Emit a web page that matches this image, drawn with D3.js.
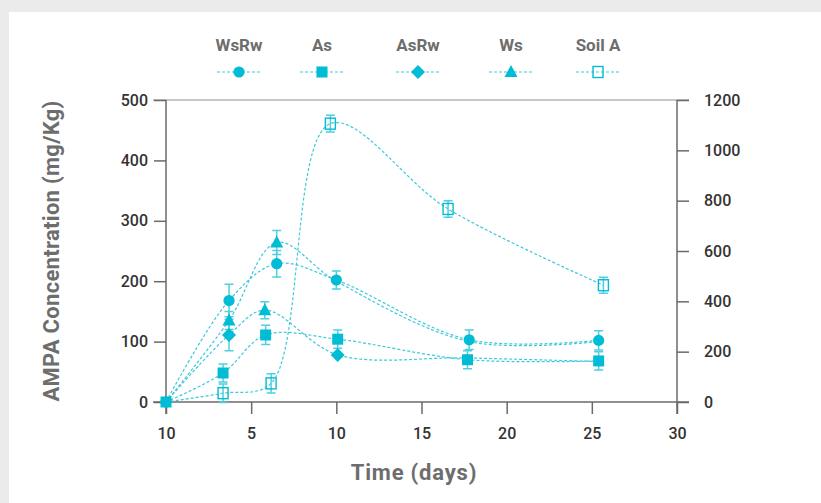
<!DOCTYPE html>
<html><head><meta charset="utf-8">
<script src="https://cdn.jsdelivr.net/npm/d3@7"></script>
<style>
html,body{margin:0;padding:0;background:#ebebeb;}
svg{display:block;}
text{font-family:Roboto,"DejaVu Sans",sans-serif;}
</style></head>
<body>
<svg id="chart" width="821" height="503"></svg>
<script>
// ---------- data ----------
const seriesNames = ["WsRw", "As", "AsRw", "Ws", "Soil A"];
const seriesAxis = ["left", "left", "left", "left", "right"];
const wsrwDays = [0, 3.7, 6.5, 10, 17.8, 25.4];
const wsrwValues = [0, 168, 229, 202, 103, 102];
const wsrwErrors = [0, 27, 22, 15, 16, 16];
const wsrwMarkers = ["circle", "circle", "circle", "circle", "circle", "circle"];

const asDays = [0, 3.35, 5.85, 10.08, 17.7, 25.4];
const asValues = [0, 48, 111, 104, 70, 68];
const asErrors = [0, 15, 16, 15, 15, 15];
const asMarkers = ["square", "square", "square", "square", "square", "square"];

const asrwDays = [0, 3.7, 5.8, 10.08, 17.7, 25.4];
const asrwValues = [0, 111, 152, 78, 73, 67];
const asrwErrors = [0, 26, 14, 0, 0, 0];
const asrwMarkers = ["none", "diamond", "triangle", "diamond", "none", "none"];

const wsDays = [0, 3.7, 6.5, 10, 17.8, 25.4];
const wsValues = [0, 135, 264, 200, 100, 100];
const wsErrors = [0, 15, 20, 0, 0, 0];
const wsMarkers = ["none", "triangle", "triangle", "none", "none", "none"];

const soilDays = [0, 3.35, 6.17, 9.65, 16.56, 25.68];
const soilValues = [0, 35, 74, 1106, 767, 464];
const soilErrors = [0, 37, 38, 33, 33, 32];
const soilMarkers = ["none", "open", "open", "open", "open", "open"];

const xTickValues = [0, 5, 10, 15, 20, 25, 30];
const xTickLabels = ["10", "5", "10", "15", "20", "25", "30"];
const yLeftTicks = [0, 100, 200, 300, 400, 500];
const yRightTicks = [0, 200, 400, 600, 800, 1000, 1200];
const legendMarkers = ["circle", "square", "diamond", "triangle", "open"];

// ---------- layout ----------
const svg = d3.select("#chart");
const C = "#00bcd4", LINE = "#3cc9dc", ERR = "#4fcfe0", AX = "#6a6a6a";
svg.append("rect").attr("x", 9).attr("y", 12).attr("width", 812).attr("height", 491).attr("fill", "#fff");

const x = d3.scaleLinear().domain([0, 30]).range([166, 677]);
const yL = d3.scaleLinear().domain([0, 500]).range([402, 100]);
const yR = d3.scaleLinear().domain([0, 1200]).range([402, 100]);

const series = [
  {name: "Soil A", days: soilDays, values: soilValues, errors: soilErrors, markers: soilMarkers, axis: seriesAxis[4]},
  {name: "Ws", days: wsDays, values: wsValues, errors: wsErrors, markers: wsMarkers, axis: seriesAxis[3]},
  {name: "AsRw", days: asrwDays, values: asrwValues, errors: asrwErrors, markers: asrwMarkers, axis: seriesAxis[2]},
  {name: "WsRw", days: wsrwDays, values: wsrwValues, errors: wsrwErrors, markers: wsrwMarkers, axis: seriesAxis[0]},
  {name: "As", days: asDays, values: asValues, errors: asErrors, markers: asMarkers, axis: seriesAxis[1]}
];

// ---------- axes ----------
svg.append("line").attr("x1", 153).attr("x2", 689).attr("y1", 100).attr("y2", 100)
  .attr("stroke", "#b4b4b4").attr("stroke-width", 1.5);

const gx = svg.append("g").attr("transform", "translate(0,402)")
  .call(d3.axisBottom(x).tickValues(xTickValues).tickFormat((d, i) => xTickLabels[i]).tickSize(12).tickSizeOuter(0).tickPadding(14));
const gl = svg.append("g").attr("transform", "translate(166,0)")
  .call(d3.axisLeft(yL).tickValues(yLeftTicks).tickFormat(d3.format("d")).tickSize(12).tickSizeOuter(0).tickPadding(6));
const gr = svg.append("g").attr("transform", "translate(677,0)")
  .call(d3.axisRight(yR).tickValues(yRightTicks).tickFormat(d3.format("d")).tickSize(12).tickSizeOuter(0).tickPadding(15));
[gx, gl, gr].forEach(g => {
  g.select(".domain").attr("stroke", AX).attr("stroke-width", 1.5);
  g.selectAll(".tick line").attr("stroke", AX).attr("stroke-width", 1.5);
  g.selectAll(".tick text").attr("fill", "#333").attr("font-size", 16).attr("font-weight", 500);
});
gx.select(".domain").remove();
svg.append("line").attr("x1", 153).attr("x2", 689).attr("y1", 402).attr("y2", 402)
  .attr("stroke", AX).attr("stroke-width", 1.5);
gl.select(".domain").attr("d", "M0,100V414");
gr.select(".domain").attr("d", "M0,100V414");

svg.append("text").attr("transform", "translate(59,251) rotate(-90)")
  .attr("text-anchor", "middle").attr("font-size", 22).attr("font-weight", 700).attr("fill", "#6d6d6d")
  .attr("letter-spacing", 0.3)
  .text("AMPA Concentration (mg/Kg)");
svg.append("text").attr("x", 414).attr("y", 480)
  .attr("text-anchor", "middle").attr("font-size", 22).attr("font-weight", 700).attr("fill", "#6d6d6d")
  .attr("letter-spacing", 0.8)
  .text("Time (days)");

// ---------- marks ----------
function drawMarker(g, type, cx, cy) {
  if (type === "circle") g.append("circle").attr("cx", cx).attr("cy", cy).attr("r", 5.6).attr("fill", C);
  else if (type === "square") g.append("rect").attr("x", cx - 5.5).attr("y", cy - 5.5).attr("width", 11).attr("height", 11).attr("fill", C);
  else if (type === "diamond") g.append("path").attr("d", `M${cx},${cy-7}L${cx+7},${cy}L${cx},${cy+7}L${cx-7},${cy}Z`).attr("fill", C);
  else if (type === "triangle") g.append("path").attr("d", `M${cx},${cy-7}L${cx+6.5},${cy+5}L${cx-6.5},${cy+5}Z`).attr("fill", C);
  else if (type === "open") g.append("rect").attr("x", cx - 5).attr("y", cy - 5.5).attr("width", 10).attr("height", 11)
    .attr("fill", "none").attr("stroke", C).attr("stroke-width", 1.4);
}

const lineG = svg.append("g"), errG = svg.append("g"), markG = svg.append("g");
series.forEach(s => {
  const y = s.axis === "right" ? yR : yL;
  const pts = s.days.map((d, i) => [d, s.values[i]]);
  const line = d3.line().x(d => x(d[0])).y(d => y(d[1])).curve(d3.curveCatmullRom.alpha(0.5));
  lineG.append("path").attr("d", line(pts)).attr("fill", "none").attr("stroke", LINE)
    .attr("stroke-width", 1.2).attr("stroke-dasharray", "3,2");
  pts.forEach((p, i) => {
    const e = s.errors[i];
    if (e > 0) {
      const cx = x(p[0]), y1 = y(p[1] + e), y2 = y(p[1] - e);
      errG.append("path").attr("d", `M${cx},${y1}V${y2}M${cx-4.5},${y1}H${cx+4.5}M${cx-4.5},${y2}H${cx+4.5}`)
        .attr("stroke", ERR).attr("stroke-width", 1.5).attr("fill", "none");
    }
  });
});
series.forEach(s => {
  const y = s.axis === "right" ? yR : yL;
  s.days.forEach((d, i) => drawMarker(markG, s.markers[i], x(d), y(s.values[i])));
});

// ---------- legend ----------
const legendX = [239, 322, 418, 511, 598];
seriesNames.forEach((n, i) => {
  const lx = legendX[i];
  svg.append("text").attr("x", lx).attr("y", 51).attr("text-anchor", "middle")
    .attr("font-size", 17).attr("font-weight", 700).attr("fill", "#6d6d6d").text(n);
  svg.append("line").attr("x1", lx - 22).attr("x2", lx + 22).attr("y1", 72).attr("y2", 72)
    .attr("stroke", LINE).attr("stroke-width", 1.2).attr("stroke-dasharray", "3,2");
  drawMarker(svg, legendMarkers[i], lx, 72);
});
</script>
</body></html>
